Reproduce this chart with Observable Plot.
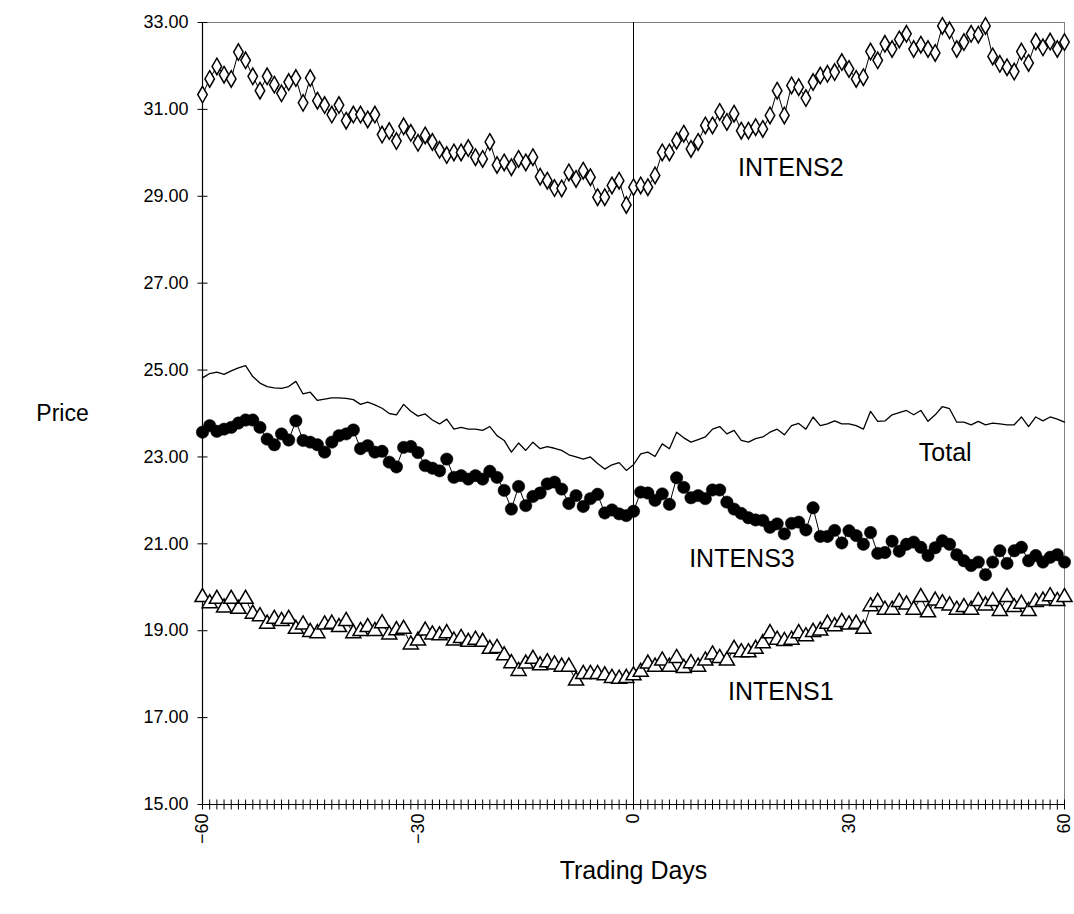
<!DOCTYPE html>
<html><head><meta charset="utf-8">
<script src="https://cdn.jsdelivr.net/npm/d3@7"></script>
<script src="https://cdn.jsdelivr.net/npm/@observablehq/plot@0.6"></script>
<style>body{margin:0;background:#fff} #chart{width:1074px;height:914px}</style>
</head><body><div id="chart"></div>
<script>
const days = d3.range(-60, 61);

const intens2 = [
  31.34, 31.70, 31.99, 31.80, 31.70, 32.32, 32.13, 31.76, 31.43, 31.76,
  31.57, 31.37, 31.63, 31.72, 31.15, 31.72, 31.20, 31.10, 30.88, 31.10,
  30.74, 30.88, 30.88, 30.77, 30.88, 30.42, 30.50, 30.27, 30.61, 30.46,
  30.23, 30.40, 30.25, 30.07, 29.95, 30.01, 30.01, 30.11, 29.90, 29.86,
  30.25, 29.72, 29.78, 29.67, 29.86, 29.78, 29.90, 29.45, 29.36, 29.19,
  29.18, 29.55, 29.40, 29.59, 29.44, 28.98, 28.98, 29.25, 29.36, 28.80,
  29.21, 29.25, 29.21, 29.48, 30.01, 30.01, 30.28, 30.44, 30.09, 30.25,
  30.63, 30.63, 30.94, 30.71, 30.90, 30.51, 30.51, 30.59, 30.55, 30.86,
  31.43, 30.86, 31.55, 31.51, 31.26, 31.63, 31.78, 31.82, 31.86, 32.09,
  31.93, 31.70, 31.74, 32.33, 32.13, 32.51, 32.39, 32.61, 32.74, 32.39,
  32.49, 32.39, 32.30, 32.92, 32.82, 32.39, 32.55, 32.74, 32.72, 32.92,
  32.22, 32.05, 31.97, 31.87, 32.33, 32.07, 32.56, 32.43, 32.56, 32.39,
  32.55
];

const total = [
  24.82, 24.92, 24.95, 24.90, 24.98, 25.05, 25.10, 24.85, 24.70, 24.62,
  24.59, 24.58, 24.62, 24.74, 24.45, 24.49, 24.30, 24.33, 24.36, 24.36,
  24.35, 24.32, 24.21, 24.26, 24.20, 24.12, 24.00, 23.97, 24.21, 24.05,
  23.94, 23.99, 23.85, 23.76, 23.87, 23.64, 23.68, 23.64, 23.64, 23.61,
  23.70, 23.49, 23.38, 23.11, 23.32, 23.15, 23.34, 23.19, 23.24, 23.20,
  23.15, 23.05, 23.00, 22.95, 23.00, 22.85, 22.72, 22.82, 22.87, 22.69,
  22.82, 23.07, 23.11, 23.01, 23.30, 23.19, 23.57, 23.44, 23.34, 23.40,
  23.46, 23.64, 23.70, 23.53, 23.61, 23.38, 23.34, 23.42, 23.46, 23.57,
  23.64, 23.51, 23.72, 23.77, 23.64, 23.92, 23.72, 23.76, 23.83, 23.76,
  23.76, 23.72, 23.64, 24.05, 23.82, 23.83, 23.97, 24.02, 24.07, 23.97,
  24.07, 23.82, 23.97, 24.16, 24.11, 23.80, 23.80, 23.74, 23.82, 23.74,
  23.78, 23.76, 23.74, 23.74, 23.92, 23.70, 23.92, 23.83, 23.92, 23.87,
  23.80
];

const intens3 = [
  23.57, 23.72, 23.59, 23.64, 23.68, 23.78, 23.85, 23.85, 23.68, 23.41,
  23.28, 23.53, 23.39, 23.83, 23.38, 23.34, 23.28, 23.11, 23.34, 23.49,
  23.53, 23.62, 23.19, 23.26, 23.11, 23.13, 22.88, 22.77, 23.22, 23.24,
  23.10, 22.80, 22.74, 22.68, 22.95, 22.53, 22.57, 22.49, 22.57, 22.49,
  22.67, 22.53, 22.23, 21.80, 22.32, 21.88, 22.09, 22.17, 22.38, 22.42,
  22.26, 21.93, 22.11, 21.86, 22.04, 22.14, 21.71, 21.78, 21.69, 21.65,
  21.75, 22.19, 22.17, 22.00, 22.15, 21.91, 22.52, 22.30, 22.06, 22.11,
  22.04, 22.24, 22.24, 21.96, 21.80, 21.70, 21.60, 21.55, 21.54, 21.38,
  21.46, 21.23, 21.47, 21.50, 21.32, 21.83, 21.17, 21.17, 21.31, 21.02,
  21.30, 21.19, 20.99, 21.26, 20.78, 20.80, 21.06, 20.83, 20.99, 21.04,
  20.92, 20.73, 20.91, 21.07, 20.99, 20.75, 20.61, 20.50, 20.58, 20.29,
  20.58, 20.84, 20.55, 20.84, 20.92, 20.61, 20.73, 20.58, 20.69, 20.75,
  20.58
];

const intens1 = [
  19.77, 19.63, 19.73, 19.53, 19.73, 19.50, 19.73, 19.39, 19.33, 19.16,
  19.27, 19.22, 19.27, 19.04, 19.14, 18.97, 18.94, 19.14, 19.16, 19.08,
  19.22, 18.94, 18.99, 19.08, 18.99, 19.17, 18.91, 19.01, 19.04, 18.68,
  18.77, 19.00, 18.91, 18.89, 18.94, 18.77, 18.83, 18.74, 18.79, 18.74,
  18.58, 18.60, 18.43, 18.25, 18.07, 18.24, 18.35, 18.20, 18.27, 18.22,
  18.17, 18.17, 17.85, 18.00, 18.00, 18.00, 17.97, 17.91, 17.89, 17.91,
  17.97, 18.05, 18.24, 18.17, 18.31, 18.17, 18.37, 18.14, 18.25, 18.17,
  18.31, 18.45, 18.37, 18.31, 18.58, 18.50, 18.50, 18.58, 18.71, 18.94,
  18.79, 18.76, 18.79, 18.94, 18.87, 18.97, 19.00, 19.16, 19.10, 19.20,
  19.14, 19.16, 19.04, 19.56, 19.66, 19.48, 19.48, 19.66, 19.60, 19.48,
  19.77, 19.42, 19.69, 19.63, 19.58, 19.48, 19.54, 19.48, 19.68, 19.58,
  19.68, 19.45, 19.77, 19.54, 19.62, 19.45, 19.66, 19.69, 19.79, 19.68,
  19.77
];

const yTicks = [15, 17, 19, 21, 23, 25, 27, 29, 31, 33];
const xLabelTicks = [-60, -30, 0, 30, 60];

const labelNames = ["INTENS2", "Total", "INTENS3", "INTENS1"];
const labelDays = [21.9, 43.4, 15.1, 20.5];
const labelValues = [29.66, 23.10, 20.66, 17.58];

const rows = days.map((d, i) => ({day: d, intens2: intens2[i], total: total[i], intens3: intens3[i], intens1: intens1[i]}));
const labels = labelNames.map((n, i) => ({name: n, day: labelDays[i], value: labelValues[i]}));

const vTick = {draw(ctx) { ctx.moveTo(0, -5); ctx.lineTo(0, 5); }};
const hTick = {draw(ctx) { ctx.moveTo(-5, 0); ctx.lineTo(5, 0); }};

const font = "'Liberation Sans', Arial, Helvetica, sans-serif";

const chart = Plot.plot({
  width: 1074,
  height: 914,
  marginLeft: 202,
  marginRight: 10,
  marginTop: 22,
  marginBottom: 110,
  style: {fontFamily: font, fontSize: "18px", background: "white", color: "black", overflow: "visible"},
  x: {domain: [-60, 60]},
  y: {domain: [15, 33]},
  marks: [
    Plot.frame({stroke: "#808080"}),
    Plot.ruleX([0], {stroke: "black", strokeWidth: 1}),
    Plot.ruleX([-60], {stroke: "black", strokeWidth: 1.2}),
    Plot.ruleY([15], {stroke: "black", strokeWidth: 1.2}),
    Plot.dot(yTicks, {x: -60, y: d => d, symbol: hTick, stroke: "black", strokeWidth: 1, r: 5}),
    Plot.dot(days, {x: d => d, y: 15, symbol: vTick, stroke: "black", strokeWidth: 1, r: 5}),
    Plot.axisY(yTicks, {tickSize: 0, tickPadding: 14, tickFormat: d => d.toFixed(2), fontSize: 18, label: null}),
    Plot.axisX(xLabelTicks, {tickSize: 0, tickRotate: -90, tickPadding: 9, fontSize: 18, label: null}),
    Plot.text(["Price"], {frameAnchor: "left", dx: -140, textAnchor: "middle", lineAnchor: "middle", fontSize: 23}),
    Plot.text(["Trading Days"], {frameAnchor: "bottom", dy: 66, textAnchor: "middle", lineAnchor: "middle", fontSize: 25}),
    Plot.line(rows, {x: "day", y: "intens2", stroke: "black", strokeWidth: 1}),
    Plot.dot(rows, {x: "day", y: "intens2", symbol: "diamond", r: 5, fill: "white", stroke: "black", strokeWidth: 1.5}),
    Plot.line(rows, {x: "day", y: "total", stroke: "black", strokeWidth: 1.3}),
    Plot.line(rows, {x: "day", y: "intens3", stroke: "black", strokeWidth: 1}),
    Plot.dot(rows, {x: "day", y: "intens3", symbol: "circle", r: 6.2, fill: "black", stroke: "black", strokeWidth: 0.5}),
    Plot.line(rows, {x: "day", y: "intens1", stroke: "black", strokeWidth: 1}),
    Plot.dot(rows, {x: "day", y: "intens1", symbol: "triangle", r: 5.6, fill: "white", stroke: "black", strokeWidth: 1.5}),
    Plot.text(labels, {x: "day", y: "value", text: "name", fontSize: 25, textAnchor: "middle", lineAnchor: "middle"})
  ]
});
document.getElementById("chart").append(chart);
</script>
</body></html>
